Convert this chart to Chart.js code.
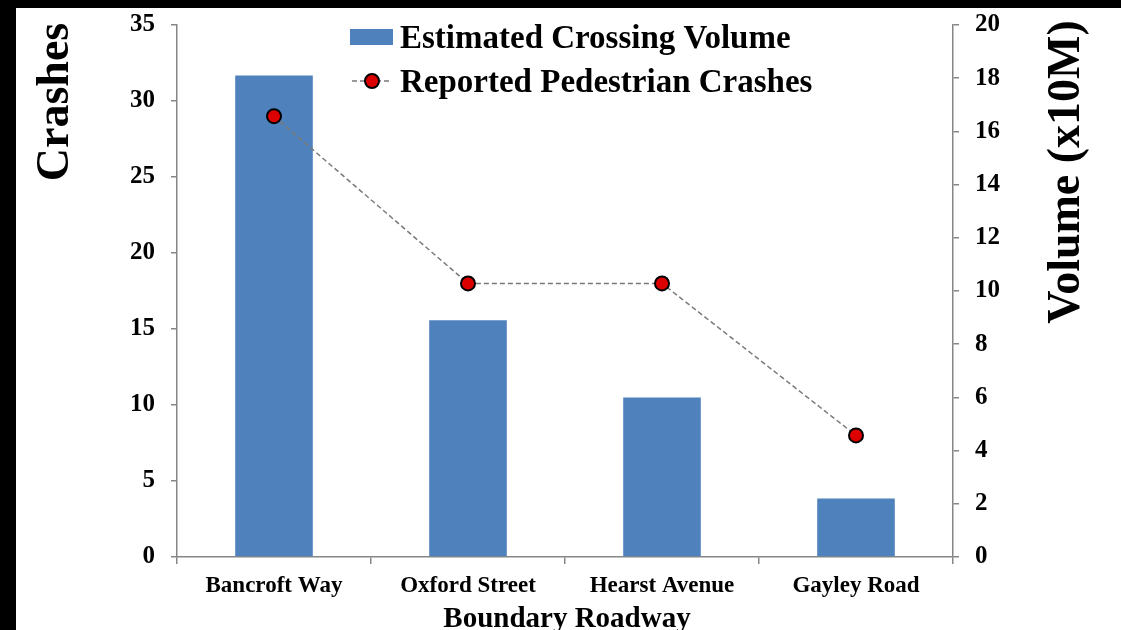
<!DOCTYPE html>
<html>
<head>
<meta charset="utf-8">
<script src="https://cdn.jsdelivr.net/npm/chart.js@4/dist/chart.umd.min.js"></script>
<style>
  html, body { margin: 0; padding: 0; background: #000; }
  body { width: 1121px; height: 630px; position: relative; overflow: hidden; }
  #frame { position: absolute; left: 16px; top: 8px; width: 1105px; height: 622px; background: #fff; }
</style>
</head>
<body>
<div id="frame"><canvas id="c"></canvas></div>
<script>
// Boundary roadways and their values
const roadways = ['Bancroft Way', 'Oxford Street', 'Hearst Avenue', 'Gayley Road'];
const crossingVolume = [18.1, 8.9, 6.0, 2.2];   // x10M, right axis
const pedestrianCrashes = [29, 18, 18, 8];      // left axis
const crashTicks = [0, 5, 10, 15, 20, 25, 30, 35];
const volumeTicks = [0, 2, 4, 6, 8, 10, 12, 14, 16, 18, 20];

const SERIF = '"Liberation Serif", "Times New Roman", serif';
const AXIS_GRAY = '#868686';
const BAR_BLUE = '#4F81BD';
const POINT_RED = '#DD0000';

// Legend and axis titles drawn at fixed spots around the plot
const decorations = {
  id: 'decorations',
  afterDraw(chart) {
    const ctx = chart.ctx;
    const ds = chart.data.datasets;
    ctx.save();
    ctx.fillStyle = '#000';
    ctx.textBaseline = 'middle';
    ctx.textAlign = 'left';
    ctx.font = 'bold 33px ' + SERIF;

    // bar entry
    ctx.fillStyle = ds[0].backgroundColor;
    ctx.fillRect(334, 21, 43, 16);
    ctx.fillStyle = '#000';
    ctx.fillText(ds[0].label, 384, 31);

    // line entry
    ctx.strokeStyle = ds[1].borderColor;
    ctx.lineWidth = 1.5;
    ctx.setLineDash([5, 3]);
    ctx.beginPath();
    ctx.moveTo(336, 73);
    ctx.lineTo(376, 73);
    ctx.stroke();
    ctx.setLineDash([]);
    ctx.beginPath();
    ctx.arc(356, 73, 7, 0, Math.PI * 2);
    ctx.fillStyle = ds[1].pointBackgroundColor;
    ctx.fill();
    ctx.lineWidth = 2;
    ctx.strokeStyle = ds[1].pointBorderColor;
    ctx.stroke();
    ctx.fillStyle = '#000';
    ctx.fillText(ds[1].label, 384, 75);

    // axis titles
    ctx.textAlign = 'center';
    ctx.font = 'bold 46px ' + SERIF;
    ctx.save();
    ctx.translate(40, 94);
    ctx.rotate(-Math.PI / 2);
    ctx.fillText('Crashes', 0, 0);
    ctx.restore();

    ctx.save();
    ctx.translate(1051, 164);
    ctx.rotate(-Math.PI / 2);
    ctx.fillText('Volume (x10M)', 0, 0);
    ctx.restore();

    ctx.font = 'bold 29px ' + SERIF;
    ctx.textBaseline = 'alphabetic';
    ctx.fillText('Boundary Roadway', 551, 619);
    ctx.restore();
  }
};

new Chart(document.getElementById('c'), {
  data: {
    labels: roadways,
    datasets: [
      {
        type: 'bar',
        label: 'Estimated Crossing Volume',
        data: crossingVolume,
        yAxisID: 'yVolume',
        backgroundColor: BAR_BLUE,
        borderWidth: 0,
        categoryPercentage: 1.0,
        barPercentage: 0.4,
        order: 2
      },
      {
        type: 'line',
        label: 'Reported Pedestrian Crashes',
        data: pedestrianCrashes,
        yAxisID: 'yCrashes',
        borderColor: '#7A7A7A',
        borderWidth: 1.5,
        borderDash: [5, 3],
        pointRadius: 7,
        pointBackgroundColor: POINT_RED,
        pointBorderColor: '#000',
        pointBorderWidth: 2,
        fill: false,
        tension: 0,
        order: 1
      }
    ]
  },
  options: {
    responsive: true,
    maintainAspectRatio: false,
    animation: false,
    layout: { padding: { top: 17, left: 0, right: 0, bottom: 0 } },
    plugins: {
      legend: { display: false },
      tooltip: { enabled: false }
    },
    scales: {
      x: {
        offset: true,
        grid: {
          offset: true,
          drawOnChartArea: false,
          drawTicks: true,
          tickLength: 7,
          color: AXIS_GRAY,
          lineWidth: 1.5
        },
        border: { display: true, color: AXIS_GRAY, width: 1.5 },
        ticks: {
          color: '#000',
          padding: 8,
          maxRotation: 0,
          font: { family: SERIF, size: 23, weight: 'bold' }
        },
        afterFit(s) { s.height = 73; s.paddingLeft = 0; s.paddingRight = 0; }
      },
      yCrashes: {
        position: 'left',
        min: 0,
        max: 35,
        afterBuildTicks(s) { s.ticks = crashTicks.map(v => ({ value: v })); },
        grid: {
          drawOnChartArea: false,
          drawTicks: true,
          tickLength: 6,
          color: AXIS_GRAY,
          lineWidth: 1.5
        },
        border: { display: true, color: AXIS_GRAY, width: 1.5 },
        ticks: {
          color: '#000',
          padding: 16,
          font: { family: SERIF, size: 25, weight: 'bold' }
        },
        afterFit(s) { s.width = 161; s.paddingTop = 0; s.paddingBottom = 0; }
      },
      yVolume: {
        position: 'right',
        min: 0,
        max: 20,
        afterBuildTicks(s) { s.ticks = volumeTicks.map(v => ({ value: v })); },
        grid: {
          drawOnChartArea: false,
          drawTicks: true,
          tickLength: 6,
          color: AXIS_GRAY,
          lineWidth: 1.5
        },
        border: { display: true, color: AXIS_GRAY, width: 1.5 },
        ticks: {
          color: '#000',
          padding: 16,
          font: { family: SERIF, size: 25, weight: 'bold' }
        },
        afterFit(s) { s.width = 168; s.paddingTop = 0; s.paddingBottom = 0; }
      }
    }
  },
  plugins: [decorations]
});
</script>
</body>
</html>
